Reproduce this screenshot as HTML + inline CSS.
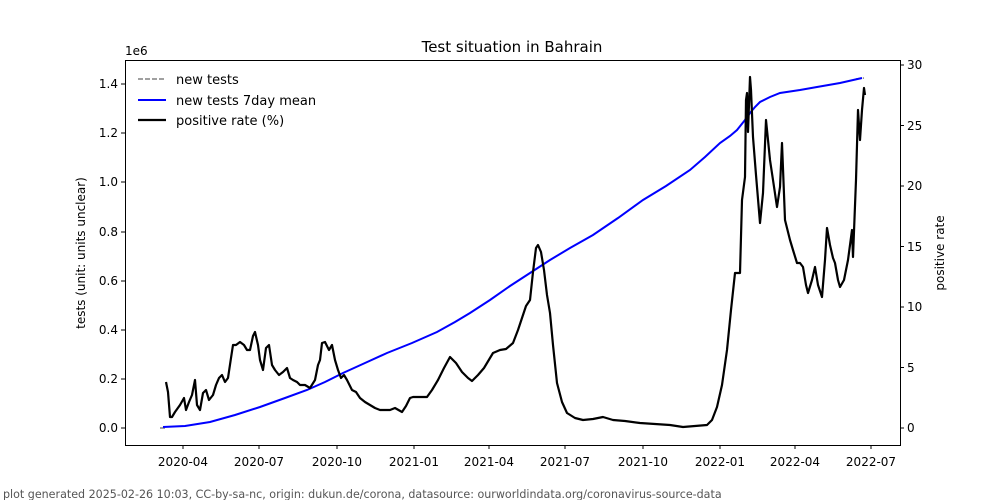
<!DOCTYPE html>
<html><head><meta charset="utf-8"><style>
body{margin:0;background:#fff;}
svg{display:block;font-family:"DejaVu Sans","Liberation Sans",sans-serif;}
</style></head><body>
<svg width="1000" height="500" viewBox="0 0 1000 500" xmlns="http://www.w3.org/2000/svg">
<rect width="1000" height="500" fill="#fff"/>
<text x="512" y="52" font-size="15" text-anchor="middle">Test situation in Bahrain</text>
<rect x="125.5" y="60.5" width="775" height="385" fill="none" stroke="#000"/>
<g font-size="12" text-anchor="end" fill="#000">
<g stroke="#000"><line x1="121" x2="125" y1="428" y2="428"/><line x1="121" x2="125" y1="379" y2="379"/><line x1="121" x2="125" y1="330" y2="330"/><line x1="121" x2="125" y1="281" y2="281"/><line x1="121" x2="125" y1="232" y2="232"/><line x1="121" x2="125" y1="182" y2="182"/><line x1="121" x2="125" y1="133" y2="133"/><line x1="121" x2="125" y1="84" y2="84"/></g>
<text x="118" y="432">0.0</text><text x="118" y="383">0.2</text><text x="118" y="334">0.4</text><text x="118" y="285">0.6</text><text x="118" y="236">0.8</text><text x="118" y="186">1.0</text><text x="118" y="137">1.2</text><text x="118" y="88">1.4</text>
</g>
<text x="125" y="55" font-size="12">1e6</text>
<text transform="translate(85,253) rotate(-90)" font-size="12" text-anchor="middle">tests (unit: units unclear)</text>
<g font-size="12" fill="#000">
<g stroke="#000"><line x1="900" x2="904" y1="428" y2="428"/><line x1="900" x2="904" y1="367.5" y2="367.5"/><line x1="900" x2="904" y1="307" y2="307"/><line x1="900" x2="904" y1="246.5" y2="246.5"/><line x1="900" x2="904" y1="186" y2="186"/><line x1="900" x2="904" y1="125.5" y2="125.5"/><line x1="900" x2="904" y1="65" y2="65"/></g>
<text x="907" y="432">0</text><text x="907" y="372">5</text><text x="907" y="311">10</text><text x="907" y="251">15</text><text x="907" y="190">20</text><text x="907" y="130">25</text><text x="907" y="69">30</text>
</g>
<text transform="translate(944,253) rotate(-90)" font-size="12" text-anchor="middle">positive rate</text>
<g font-size="12" text-anchor="middle">
<g stroke="#000"><line x1="183" x2="183" y1="445" y2="449"/><line x1="259" x2="259" y1="445" y2="449"/><line x1="337" x2="337" y1="445" y2="449"/><line x1="414" x2="414" y1="445" y2="449"/><line x1="489" x2="489" y1="445" y2="449"/><line x1="565" x2="565" y1="445" y2="449"/><line x1="643" x2="643" y1="445" y2="449"/><line x1="720" x2="720" y1="445" y2="449"/><line x1="795" x2="795" y1="445" y2="449"/><line x1="871" x2="871" y1="445" y2="449"/></g>
<text x="183" y="466">2020-04</text><text x="259" y="466">2020-07</text><text x="337" y="466">2020-10</text><text x="414" y="466">2021-01</text><text x="489" y="466">2021-04</text><text x="565" y="466">2021-07</text><text x="643" y="466">2021-10</text><text x="720" y="466">2022-01</text><text x="795" y="466">2022-04</text><text x="871" y="466">2022-07</text>
</g>
<line x1="160" y1="428" x2="165" y2="428" stroke="#808080" stroke-width="1.5" stroke-dasharray="5,2"/>
<line x1="856" y1="79" x2="864" y2="78" stroke="#808080" stroke-width="1.5" stroke-dasharray="5,2"/>
<polyline fill="none" stroke="#0000ff" stroke-width="2" points="163,427 185,426 210,422 235,415 260,407 285,398 307,390 325,382 343,373 365,363 387,353 412,343 437,332 455,322 470,313 490,300 510,286 530,273 550,260 570,248 593,235 618,218 643,200 666,186 690,170 705,157 720,143 730,136 737,130 745,120 750,113 755,107 760,102 770,97 780,93 800,90 817,87 840,83 862,78"/>
<polyline fill="none" stroke="#000" stroke-width="2.2" stroke-linejoin="round" points="166,382 168,392 170,417 172,417 175,412 180,405 184,398 186,410 189,402 192,395 195,380 197,405 200,410 203,393 206,390 209,400 213,395 216,385 219,378 222,375 225,382 228,378 231,358 233,345 236,345 240,342 244,345 247,350 250,350 253,336 255,332 258,345 260,360 263,370 266,348 269,345 272,365 275,370 279,375 283,372 287,368 290,378 293,380 297,382 300,385 305,385 310,388 315,380 318,365 320,360 322,343 325,342 329,350 332,345 335,360 338,370 341,378 344,375 347,380 352,390 356,392 360,398 365,402 370,405 375,408 380,410 390,410 395,408 402,412 406,406 410,398 413,397 420,397 427,397 432,390 438,380 444,368 450,357 456,363 462,372 468,378 472,381 478,375 484,368 490,358 493,353 500,350 506,349 513,343 518,330 522,318 526,306 530,300 533,272 536,248 538,245 541,252 544,270 547,295 550,313 553,345 557,383 562,402 567,413 575,418 583,420 593,419 603,417 613,420 625,421 640,423 655,424 670,425 683,427 695,426 707,425 712,420 717,407 722,385 727,350 731,310 735,273 740,273 742,200 745,177 746,100 747,93 748,132 750,77 751,90 753,137 756,175 760,223 763,193 766,120 768,140 770,160 773,180 777,207 780,187 782,143 785,220 790,240 793,250 797,263 800,263 803,267 806,285 808,293 812,280 815,267 818,285 822,297 825,260 827,228 830,245 833,258 835,263 838,280 840,287 844,280 848,260 852,230 853,257 856,180 858,110 860,140 862,110 864,88 865,95"/>
<line x1="138" y1="79" x2="166" y2="79" stroke="#808080" stroke-width="1.5" stroke-dasharray="5,2"/>
<text x="176" y="84" font-size="13">new tests</text>
<line x1="138" y1="100" x2="166" y2="100" stroke="#0000ff" stroke-width="2"/>
<text x="176" y="105" font-size="13">new tests 7day mean</text>
<line x1="138" y1="120" x2="166" y2="120" stroke="#000" stroke-width="2.2"/>
<text x="176" y="125" font-size="13">positive rate (%)</text>
<text x="3" y="498" font-size="11.1" fill="#555">plot generated 2025-02-26 10:03, CC-by-sa-nc, origin: dukun.de/corona, datasource: ourworldindata.org/coronavirus-source-data</text>
</svg>
</body></html>
